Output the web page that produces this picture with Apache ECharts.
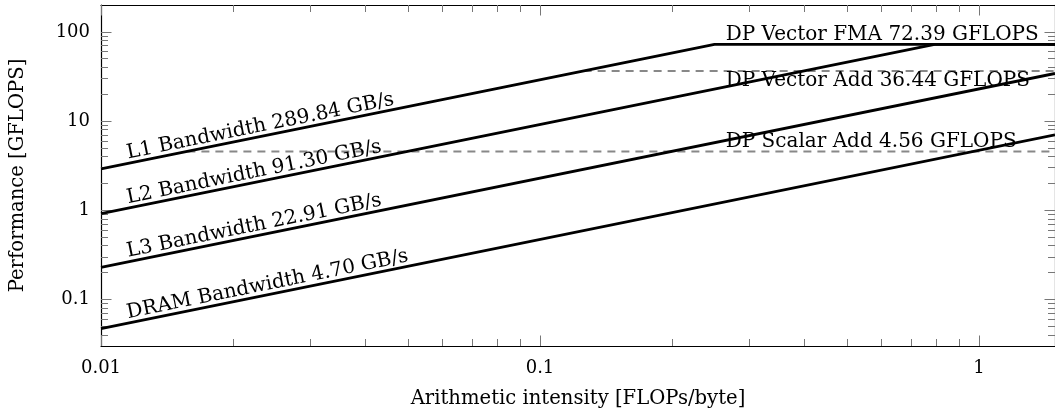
<!DOCTYPE html>
<html>
<head>
<meta charset="utf-8">
<title>Roofline</title>
<script src="https://cdn.jsdelivr.net/npm/echarts@6/dist/echarts.min.js"></script>
<style>
  html, body { margin: 0; padding: 0; background: #fff; }
  #chart { width: 1055px; height: 415px; }
</style>
</head>
<body>
<div id="chart"></div>
<script>
// Axis ranges and tick labels
const X_MIN = 0.01, X_MAX = 1.49;
const Y_MIN = 0.03, Y_MAX = 200;
const X_TICKS = [0.01, 0.1, 1];
const X_TICK_LABELS = ['0.01', '0.1', '1'];
const Y_TICKS = [0.1, 1, 10, 100];
const Y_TICK_LABELS = ['0.1', '1', '10', '100'];

// Memory bandwidths (GB/s)
const BW_NAMES = ['L1', 'L2', 'L3', 'DRAM'];
const BW_VALUES = [289.84, 91.30, 22.91, 4.70];

// Compute ceilings (GFLOPS)
const PEAK_NAMES = ['DP Vector FMA', 'DP Vector Add', 'DP Scalar Add'];
const PEAK_VALUES = [72.39, 36.44, 4.56];

const FONT = 'DejaVu Serif';

// minor ticks at 2..9 of every decade inside the range
function minorTicks(lo, hi) {
  const out = [];
  for (let d = Math.floor(Math.log10(lo)); d <= Math.ceil(Math.log10(hi)); d++) {
    for (let k = 2; k <= 9; k++) {
      const v = k * Math.pow(10, d);
      if (v > lo * 1.0001 && v < hi * 0.9999) out.push(+v.toPrecision(6));
    }
  }
  return out;
}
const X_MINOR = minorTicks(X_MIN, X_MAX);
const Y_MINOR = minorTicks(Y_MIN, Y_MAX);

function labelFor(ticks, labels) {
  return function (v) {
    for (let i = 0; i < ticks.length; i++) {
      if (Math.abs(v / ticks[i] - 1) < 1e-6) return labels[i];
    }
    return '';
  };
}

function makeAxis(dim, position, ticks, len, showLine, labels, extra) {
  const isX = dim === 'x';
  return Object.assign({
    type: 'log',
    logBase: 10,
    min: isX ? X_MIN : Y_MIN,
    max: isX ? X_MAX : Y_MAX,
    position: position,
    axisLine: { show: showLine, onZero: false, lineStyle: { color: '#000', width: 1.2 } },
    axisTick: { show: true, inside: true, length: len, customValues: ticks,
                lineStyle: { color: '#777', width: 1 } },
    axisLabel: labels ? {
      show: true, customValues: ticks, formatter: labelFor(ticks, labels),
      color: '#000', fontFamily: FONT, fontSize: 18, margin: isX ? 13 : 11
    } : { show: false },
    splitLine: { show: false },
    minorTick: { show: false },
    axisPointer: { show: false },
    silent: true
  }, extra || {});
}

const xAxes = [
  makeAxis('x', 'bottom', X_TICKS, 10.5, true, X_TICK_LABELS, {
    name: 'Arithmetic intensity [FLOPs/byte]', nameLocation: 'middle', nameGap: 43,
    nameTextStyle: { color: '#000', fontFamily: FONT, fontSize: 19.6 }
  }),
  makeAxis('x', 'bottom', X_MINOR, 7, false, null),
  makeAxis('x', 'top', X_TICKS, 10.5, true, null),
  makeAxis('x', 'top', X_MINOR, 7, false, null)
];
const yAxes = [
  makeAxis('y', 'left', Y_TICKS, 10.5, true, Y_TICK_LABELS, {
    name: 'Performance [GFLOPS]', nameLocation: 'middle', nameGap: 73,
    nameTextStyle: { color: '#000', fontFamily: FONT, fontSize: 19.6 }
  }),
  makeAxis('y', 'left', Y_MINOR, 7, false, null),
  makeAxis('y', 'right', Y_TICKS, 10.5, true, null),
  makeAxis('y', 'right', Y_MINOR, 7, false, null)
];

// Bandwidth roofs, each capped by the FMA peak
const peakTop = PEAK_VALUES[0];
const roofSeries = BW_VALUES.map(function (bw, i) {
  const ridge = peakTop / bw;
  const pts = [[X_MIN, bw * X_MIN]];
  if (ridge < X_MAX) { pts.push([ridge, peakTop], [X_MAX, peakTop]); }
  else { pts.push([X_MAX, bw * X_MAX]); }
  return {
    type: 'line', name: BW_NAMES[i] + ' Bandwidth', data: pts,
    symbol: 'none', lineStyle: { color: '#000', width: 2.8 }, z: 3, silent: true
  };
});

// Lower compute ceilings, dashed, starting where they meet the L1 roof
const ceilingSeries = PEAK_VALUES.slice(1).map(function (p, i) {
  return {
    type: 'line', name: PEAK_NAMES[i + 1], data: [[p / BW_VALUES[0], p], [X_MAX, p]],
    symbol: 'none', lineStyle: { color: '#888', width: 1.9, type: [8, 6] }, z: 2, silent: true
  };
});

const BW_LABEL_X = 0.01158;
const PEAK_LABEL_X = 0.265;

function labelSeries(angle) {
  const items = [];
  BW_VALUES.forEach(function (bw, i) {
    items.push({
      value: [BW_LABEL_X, bw * BW_LABEL_X],
      label: { formatter: BW_NAMES[i] + ' Bandwidth ' + bw.toFixed(2) + ' GB/s',
               rotate: angle, align: 'left', verticalAlign: 'bottom' }
    });
  });
  PEAK_VALUES.forEach(function (p, i) {
    items.push({
      value: [PEAK_LABEL_X, p],
      label: { formatter: PEAK_NAMES[i] + ' ' + p.toFixed(2) + ' GFLOPS',
               rotate: 0, align: 'left', verticalAlign: i === 1 ? 'top' : 'bottom' }
    });
  });
  return {
    type: 'scatter', data: items, symbolSize: 0.1, z: 4, silent: true,
    itemStyle: { color: 'rgba(0,0,0,0)', opacity: 1 },
    label: { show: true, position: [0, 0], color: '#000', opacity: 1,
             textBorderWidth: 0, fontFamily: FONT, fontSize: 20 },
    labelLayout: { hideOverlap: false }
  };
}

const chart = echarts.init(document.getElementById('chart'), null, { renderer: 'canvas' });
const option = {
  animation: false,
  backgroundColor: '#fff',
  grid: { left: 101, right: 0, top: 5, bottom: 69, containLabel: false, outerBoundsMode: 'none' },
  xAxis: xAxes,
  yAxis: yAxes,
  series: ceilingSeries.concat(roofSeries, [labelSeries(0)])
};
chart.setOption(option);

// slope of a bandwidth roof on screen, used to tilt its label
const p0 = chart.convertToPixel({ xAxisIndex: 0, yAxisIndex: 0 }, [0.01, 1]);
const p1 = chart.convertToPixel({ xAxisIndex: 0, yAxisIndex: 0 }, [0.1, 10]);
const angle = Math.atan2(p0[1] - p1[1], p1[0] - p0[0]) * 180 / Math.PI;
option.series = ceilingSeries.concat(roofSeries, [labelSeries(angle)]);
chart.setOption(option, true);
</script>
</body>
</html>
